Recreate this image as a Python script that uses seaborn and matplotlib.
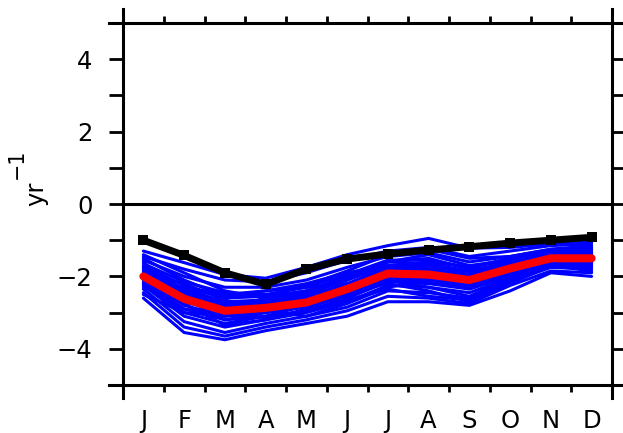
import numpy as np
import pandas as pd
import matplotlib
matplotlib.use("Agg")
import matplotlib.pyplot as plt
import seaborn as sns

# Month labels and monthly values (yr^-1)
months = ["J", "F", "M", "A", "M", "J", "J", "A", "S", "O", "N", "D"]

observed = [-1.00, -1.42, -1.90, -2.22, -1.80, -1.52, -1.38, -1.27, -1.18, -1.08, -1.00, -0.92]

ens_mean = [-2.00, -2.62, -2.95, -2.87, -2.72, -2.35, -1.92, -1.95, -2.10, -1.78, -1.50, -1.50]

members = [
    [-1.30, -1.62, -1.95, -2.05, -1.75, -1.40, -1.15, -0.95, -1.22, -1.20, -1.10, -1.05],
    [-1.45, -1.80, -2.10, -2.15, -1.90, -1.55, -1.30, -1.20, -1.45, -1.30, -1.15, -1.10],
    [-1.55, -2.00, -2.30, -2.30, -2.10, -1.75, -1.45, -1.35, -1.60, -1.45, -1.25, -1.20],
    [-1.65, -2.15, -2.45, -2.50, -2.30, -1.95, -1.55, -1.55, -1.75, -1.55, -1.30, -1.25],
    [-1.70, -2.25, -2.60, -2.55, -2.40, -2.05, -1.60, -1.65, -1.85, -1.60, -1.35, -1.30],
    [-1.75, -2.35, -2.70, -2.65, -2.45, -2.10, -1.70, -1.70, -1.90, -1.62, -1.38, -1.35],
    [-1.80, -2.40, -2.75, -2.70, -2.55, -2.20, -1.75, -1.80, -1.95, -1.65, -1.40, -1.40],
    [-1.85, -2.45, -2.80, -2.75, -2.60, -2.25, -1.80, -1.85, -2.00, -1.70, -1.42, -1.45],
    [-1.90, -2.50, -2.85, -2.80, -2.62, -2.30, -1.85, -1.90, -2.05, -1.72, -1.45, -1.48],
    [-1.95, -2.55, -2.90, -2.85, -2.65, -2.35, -1.90, -1.95, -2.10, -1.75, -1.48, -1.50],
    [-2.00, -2.60, -2.95, -2.85, -2.70, -2.40, -1.95, -2.00, -2.15, -1.80, -1.50, -1.52],
    [-2.05, -2.70, -3.00, -2.90, -2.75, -2.45, -2.00, -2.05, -2.20, -1.85, -1.52, -1.55],
    [-2.10, -2.80, -3.10, -2.95, -2.80, -2.50, -2.05, -2.10, -2.25, -1.90, -1.55, -1.58],
    [-2.15, -2.90, -3.20, -3.00, -2.85, -2.55, -2.10, -2.15, -2.30, -1.95, -1.60, -1.62],
    [-2.20, -3.00, -3.30, -3.10, -2.95, -2.60, -2.15, -2.20, -2.35, -2.00, -1.65, -1.68],
    [-2.25, -3.10, -3.40, -3.20, -3.00, -2.70, -2.25, -2.30, -2.45, -2.05, -1.70, -1.72],
    [-2.35, -3.25, -3.55, -3.30, -3.10, -2.85, -2.40, -2.45, -2.60, -2.15, -1.75, -1.80],
    [-2.45, -3.40, -3.65, -3.40, -3.20, -2.95, -2.55, -2.60, -2.75, -2.25, -1.85, -1.90],
    [-2.60, -3.55, -3.75, -3.50, -3.30, -3.10, -2.70, -2.70, -2.80, -2.40, -1.90, -2.00],
    [-1.40, -1.90, -2.40, -2.60, -2.50, -2.10, -1.60, -1.40, -1.70, -1.55, -1.30, -1.20],
    [-2.30, -2.70, -2.90, -2.60, -2.40, -2.00, -1.60, -1.50, -1.80, -1.70, -1.45, -1.40],
    [-1.60, -2.60, -3.20, -3.10, -2.80, -2.30, -1.80, -1.70, -1.85, -1.65, -1.40, -1.35],
    [-2.10, -2.30, -2.50, -2.40, -2.30, -2.20, -2.10, -2.30, -2.55, -2.05, -1.65, -1.75],
    [-1.90, -2.20, -2.65, -2.95, -3.10, -2.75, -2.30, -2.10, -2.00, -1.80, -1.55, -1.45],
    [-2.50, -3.00, -3.10, -3.00, -2.80, -2.40, -1.95, -1.85, -1.95, -1.75, -1.50, -1.60],
    [-1.50, -2.10, -2.55, -2.55, -2.25, -1.85, -1.40, -1.25, -1.50, -1.45, -1.25, -1.15],
    [-2.00, -2.75, -3.35, -3.20, -2.90, -2.45, -2.20, -2.40, -2.70, -2.20, -1.70, -1.85],
    [-1.75, -2.50, -2.95, -3.15, -2.95, -2.65, -2.35, -2.55, -2.65, -2.10, -1.60, -1.65],
    [-2.20, -2.90, -3.05, -2.70, -2.55, -2.25, -1.80, -1.75, -1.90, -1.60, -1.35, -1.35],
    [-1.85, -2.35, -2.55, -2.40, -2.20, -1.90, -1.70, -1.60, -1.75, -1.50, -1.28, -1.25],
]

sns.set_style("ticks")
plt.rcParams["font.family"] = ["DejaVu Sans"]
plt.rcParams["axes.unicode_minus"] = True

W, H = 623, 433
fig = plt.figure(figsize=(W / 100, H / 100), dpi=100)
ax = fig.add_axes([123 / W, 1 - 385 / H, 489 / W, 362 / H])

pos = np.arange(len(months)) + 0.5
ens_long = pd.DataFrame(
    [(k, p, v) for k, row in enumerate(members) for p, v in zip(pos, row)],
    columns=["member", "month", "value"],
)

sns.lineplot(data=ens_long, x="month", y="value", units="member", estimator=None,
             color="#0000ff", lw=2.2, ax=ax, legend=False)
sns.lineplot(x=pos, y=ens_mean, color="#ff0000", lw=5.8, ax=ax)
sns.lineplot(x=pos, y=observed, color="black", lw=5.0, marker="s",
             markersize=6.5, markeredgewidth=0, ax=ax)
ax.axhline(0, color="black", lw=2.2, zorder=5)

ax.set_xlim(0, 12)
ax.set_ylim(-5, 5)
ax.set_xlabel("")
ax.set_ylabel("")

# unit label: "yr" with a full-size "−1" exponent, written sideways
fs = 17.5
fig.text(36 / W, 1 - 194 / H, "yr", rotation=90, ha="center", va="center",
         fontsize=fs, color="black")
fig.text(17 / W, 1 - 164 / H, "\u22121", rotation=90, ha="center", va="center",
         fontsize=fs * 0.85, color="black")

# x axis: month letters centred in each month, short ticks at month boundaries
ax.set_xticks(pos, months)
ax.set_xticks(np.arange(1, 12), minor=True)
ax.tick_params(axis="x", which="major", length=0, pad=17, labelsize=fs,
               labelcolor="black")
ax.tick_params(axis="x", which="minor", length=5, width=2, direction="out",
               top=True, bottom=True, color="black")

# y axis: ticks at every integer, labels on the even ones
yt = np.arange(-5, 6)
ylabels = ["" if (v % 2 or abs(v) == 5) else ("\u2212%d" % -v if v < 0 else "%d" % v) for v in yt]
ax.set_yticks(yt, ylabels)
ax.tick_params(axis="y", which="major", length=10, width=2, direction="out",
               left=True, right=True, labelsize=fs, pad=12, color="black",
               labelcolor="black")

for side in ["left", "right", "top", "bottom"]:
    ax.spines[side].set_visible(True)
    ax.spines[side].set_color("black")
    ax.spines[side].set_linewidth(2.2)
ax.spines["left"].set_bounds(-5 - 13 / 36.2, 5 + 14 / 36.2)
ax.spines["right"].set_bounds(-5 - 13 / 36.2, 5 + 14 / 36.2)
ax.spines["top"].set_bounds(-14 / 40.75, 12 + 14 / 40.75)
ax.spines["bottom"].set_bounds(-14 / 40.75, 12 + 14 / 40.75)
ax.grid(False)

fig.savefig("out.png", dpi=100, facecolor="white")
